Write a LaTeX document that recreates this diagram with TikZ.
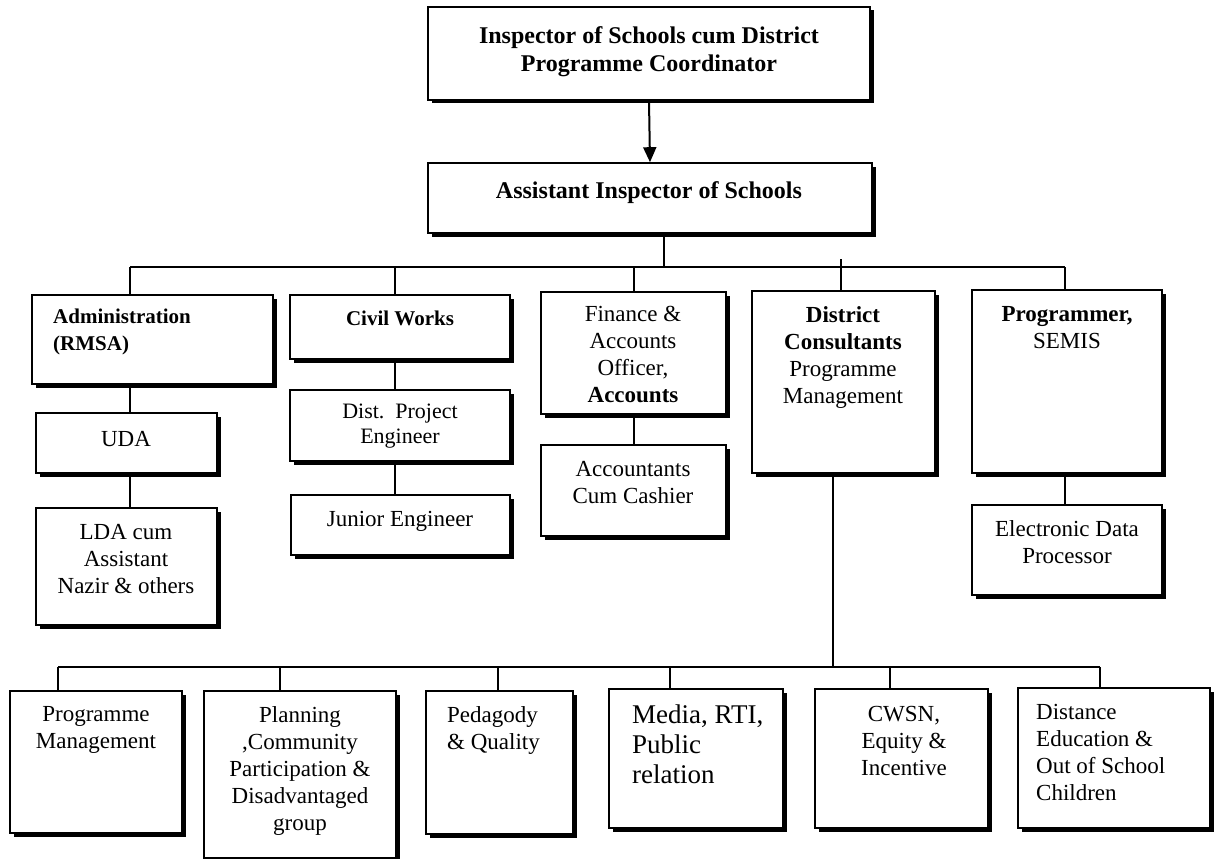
\documentclass[tikz,border=0pt]{standalone}
\usepackage{fontspec}
\setmainfont{Liberation Serif}
\usetikzlibrary{arrows.meta,shadows,fit}
\begin{document}
\begin{tikzpicture}[x=1pt,y=-1pt,
  box/.style={draw, rectangle, line width=1.6pt, fill=white, inner sep=0pt,
    drop shadow={shadow xshift=3.5pt, shadow yshift=-3.5pt, fill=black, opacity=1}},
  link/.style={line width=1.6pt},
  txt/.style={inner sep=0pt, align=center, anchor=north, font=\fontsize{23}{27}\selectfont},
  ltxt/.style={txt, align=left, anchor=north west},
  btxt/.style={txt, font=\bfseries\fontsize{21}{27}\selectfont},
]
\useasboundingbox (0,0) rectangle (1219,859);
\fill[white] (0,0) rectangle (1219,859);

% ---- boxes ----
\node[box, fit={(428,7) (870,100)}] (top) {};
\node[box, fit={(428,163) (872,233)}] (ais) {};

\node[box, fit={(32,295) (273,384)}] (adm) {};
\node[box, fit={(290,295) (510,359)}] (civ) {};
\node[box, fit={(541,292) (726,414)}] (fin) {};
\node[box, fit={(752,291) (935,473)}] (dc) {};
\node[box, fit={(972,290) (1162,473)}] (prg) {};

\node[box, fit={(36,413) (217,473)}] (uda) {};
\node[box, fit={(36,508) (217,625)}] (lda) {};
\node[box, fit={(290,390) (510,461)}] (dpe) {};
\node[box, fit={(291,495) (510,555)}] (je) {};
\node[box, fit={(541,445) (726,536)}] (acc) {};
\node[box, fit={(972,505) (1162,595)}] (edp) {};

\node[box, fit={(10,691) (182,833)}] (pm) {};
\node[box, fit={(204,691) (396,858)}] (pl) {};
\node[box, fit={(426,691) (573,834)}] (ped) {};
\node[box, fit={(609,689) (783,828)}] (med) {};
\node[box, fit={(815,689) (988,828)}] (cws) {};
\node[box, fit={(1018,688) (1210,828)}] (dis) {};

% ---- texts ----
\node[txt, font=\bfseries\fontsize{24}{28}\selectfont] (ttop) at (649,26)
  {Inspector of Schools cum District\\Programme Coordinator};
\node[txt, font=\bfseries\fontsize{24}{28}\selectfont] (tais) at (649,181)
  {Assistant Inspector of Schools};

\node[btxt, align=left, anchor=north west] (tadm) at (53,309) {Administration\\(RMSA)};
\node[btxt] (tciv) at (400,311) {Civil Works};
\node[txt, font=\fontsize{22}{25}\selectfont] (tdpe) at (400,404) {Dist.\ \ Project\\Engineer};
\node[txt] (tje) at (400,511) {Junior Engineer};
\node[txt] (tuda) at (126,431) {UDA};
\node[txt] (tlda) at (126,524) {LDA cum\\Assistant\\Nazir \& others};
\node[txt] (tfin) at (633,306) {Finance \&\\Accounts\\Officer,\\\textbf{Accounts}};
\node[txt] (tacc) at (633,461) {Accountants\\Cum Cashier};
\node[txt] (tdc) at (843,306) {\textbf{District}\\\textbf{Consultants}\\Programme\\Management};
\node[txt] (tprg) at (1067,306) {\textbf{Programmer,}\\SEMIS};
\node[txt] (tedp) at (1067,520) {Electronic Data\\Processor};

\node[txt] (tpm) at (96,706) {Programme\\Management};
\node[txt] (tpl) at (300,706) {Planning\\,Community\\Participation \&\\Disadvantaged\\group};
\node[ltxt] (tped) at (447,706) {Pedagody\\\& Quality};
\node[ltxt, font=\fontsize{27}{30}\selectfont] (tmed) at (632,705) {Media, RTI,\\Public\\relation};
\node[txt] (tcws) at (904,706) {CWSN,\\Equity \&\\Incentive};
\node[ltxt] (tdis) at (1036,704) {Distance\\Education \&\\Out of School\\Children};

% ---- connectors ----
\draw[link, line width=2pt, -{Triangle[length=15pt,width=13pt]}] (top.south) -- (ais.north);

\coordinate (hA) at (130,267);
\coordinate (hC) at (395,267);
\coordinate (hF) at (634,267);
\coordinate (hM) at (664,267);
\coordinate (hD) at (841,267);
\coordinate (hP) at (1065,267);

\draw[link] (ais.south -| hM) -- (hM);
\draw[link] (hA) -- (hP);
\draw[link] (hA) -- (hA |- adm.north);
\draw[link] (hC) -- (hC |- civ.north);
\draw[link] (hF) -- (hF |- fin.north);
\draw[link] ([yshift=8pt]hD) -- (hD |- dc.north);
\draw[link] (hP) -- (hP |- prg.north);

\draw[link] (adm.south -| hA) -- (uda.north -| hA);
\draw[link] (uda.south -| hA) -- (lda.north -| hA);
\draw[link] (civ.south -| hC) -- (dpe.north -| hC);
\draw[link] (dpe.south -| hC) -- (je.north -| hC);
\draw[link] (fin.south -| hF) -- (acc.north -| hF);
\draw[link] (prg.south -| hP) -- (edp.north -| hP);

\coordinate (bD) at (833,667);
\coordinate (b1) at (58,667);
\coordinate (b2) at (280,667);
\coordinate (b3) at (498,667);
\coordinate (b4) at (670,667);
\coordinate (b5) at (890,667);
\coordinate (b6) at (1100,667);

\draw[link] (dc.south -| bD) -- (bD);
\draw[link] (b1) -- (b6);
\draw[link] (b1) -- (b1 |- pm.north);
\draw[link] (b2) -- (b2 |- pl.north);
\draw[link] (b3) -- (b3 |- ped.north);
\draw[link] (b4) -- (b4 |- med.north);
\draw[link] (b5) -- (b5 |- cws.north);
\draw[link] (b6) -- (b6 |- dis.north);
\end{tikzpicture}
\end{document}
